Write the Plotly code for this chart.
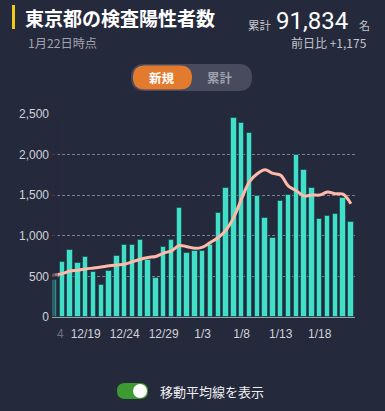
import plotly.graph_objects as go
import pandas as pd

# ---- data ----
dates = pd.date_range("2020-12-14", "2021-01-22", freq="D").strftime("%Y-%m-%d").tolist()
new_cases = [305, 460, 678, 822, 664, 736, 556, 392, 563, 748, 888, 884, 949, 708, 481,
             856, 944, 1337, 783, 814, 816, 884, 1278, 1591, 2447, 2392, 2268, 1494, 1219,
             970, 1433, 1502, 2001, 1809, 1592, 1204, 1240, 1274, 1471, 1175]
moving_avg = [503.9, 519.3, 534.4, 565.9, 575.7, 592.1, 603.0, 615.4, 630.1, 640.1, 649.6,
              681.0, 711.4, 733.1, 745.9, 787.7, 815.7, 879.9, 865.4, 846.1, 861.6, 919.1,
              979.4, 1071.9, 1230.4, 1460.3, 1668.0, 1764.9, 1812.7, 1768.7, 1746.1, 1611.1,
              1555.3, 1489.7, 1503.7, 1501.6, 1540.1, 1517.4, 1513.0, 1395.0]
tick_dates = ["2020-12-19", "2020-12-24", "2020-12-29", "2021-01-03", "2021-01-08",
              "2021-01-13", "2021-01-18"]
tick_text = ["12/19", "12/24", "12/29", "1/3", "1/8", "1/13", "1/18"]
y_ticks = [0, 500, 1000, 1500, 2000, 2500]

# ---- geometry ----
W, H = 385, 411
L, R, T, B = 52, 30, 114, 94
PW, PH = W - L - R, H - T - B
BG = "#25293c"


def px(x, y):
    return (x - L) / PW, (H - B - y) / PH


def rrect_path(x0, y0, x1, y1, r):
    pts = [("M", [(x0 + r, y0)]), ("L", [(x1 - r, y0)]), ("Q", [(x1, y0), (x1, y0 + r)]),
           ("L", [(x1, y1 - r)]), ("Q", [(x1, y1), (x1 - r, y1)]), ("L", [(x0 + r, y1)]),
           ("Q", [(x0, y1), (x0, y1 - r)]), ("L", [(x0, y0 + r)]), ("Q", [(x0, y0), (x0 + r, y0)])]
    s = ""
    for cmd, ps in pts:
        s += cmd + " " + " ".join("%.5f,%.5f" % px(a, b) for a, b in ps) + " "
    return s + "Z"


CJK = "Noto Sans CJK JP"
NUM = "Liberation Sans, Noto Sans CJK JP"

fig = go.Figure()
fig.add_trace(go.Bar(
    x=dates, y=new_cases, width=0.68 * 86400000,
    marker=dict(color="#41dfc7", line=dict(color="rgba(25,70,80,0.7)", width=1)),
    hoverinfo="skip"))
fig.add_trace(go.Scatter(
    x=dates, y=moving_avg, mode="lines", line=dict(color="#ffb9a9", width=3, shape="spline"),
    hoverinfo="skip"))

x0 = pd.Timestamp("2020-12-15") - pd.Timedelta(hours=7.7)
x1 = pd.Timestamp("2021-01-22") + pd.Timedelta(hours=12.7)

fig.update_layout(
    width=W, height=H, margin=dict(l=L, r=R, t=T, b=B, pad=0),
    paper_bgcolor=BG, plot_bgcolor=BG, showlegend=False, bargap=0,
    xaxis=dict(type="date", range=[x0, x1], tickvals=tick_dates, ticktext=tick_text,
               showgrid=False, showline=True, linecolor="#9a9da8", linewidth=1,
               ticks="", tickfont=dict(family=NUM, size=12, color="#d0d2d8"),
               ticklabelstandoff=6, fixedrange=True),
    yaxis=dict(range=[0, 2500], tickvals=y_ticks, tickformat=",", showgrid=True,
               gridcolor="#7b7f8f", griddash="3px,2px", gridwidth=1, zeroline=False,
               ticks="", tickfont=dict(family=NUM, size=12, color="#d0d2d8"),
               ticklabelstandoff=2, fixedrange=True),
)

shapes = []
# left fade over the scrolled chart edge
for xa, xb, a in [(52, 55, 0.7), (55, 58, 0.45)]:
    p0, q0 = px(xa, 317)
    p1, q1 = px(xb, T)
    shapes.append(dict(type="rect", xref="paper", yref="paper", x0=p0, x1=p1, y0=q0, y1=q1,
                       fillcolor="rgba(37,41,60,%.2f)" % a, line_width=0, layer="above"))
# yellow title marker
p0, q0 = px(12, 29)
p1, q1 = px(15, 5)
shapes.append(dict(type="rect", xref="paper", yref="paper", x0=p0, x1=p1, y0=q0, y1=q1,
                   fillcolor="#f2c81b", line_width=0))
# segmented toggle
shapes.append(dict(type="path", xref="paper", yref="paper", path=rrect_path(131, 64, 252, 91, 13.5),
                   fillcolor="#474b5d", line_width=0))
shapes.append(dict(type="path", xref="paper", yref="paper", path=rrect_path(133, 65.5, 192, 89.5, 12),
                   fillcolor="#e27b2e", line_width=0))
# switch
shapes.append(dict(type="path", xref="paper", yref="paper", path=rrect_path(117, 383, 148, 399, 8),
                   fillcolor="#3d9a33", line_width=0))
p0, q0 = px(133, 398)
p1, q1 = px(147, 384)
shapes.append(dict(type="circle", xref="paper", yref="paper", x0=p0, x1=p1, y0=q0, y1=q1,
                   fillcolor="#ffffff", line_width=0))
fig.update_layout(shapes=shapes)


def ann(text, x, y, size, color, family=CJK, xanchor="left", bold=False):
    xp, yp = px(x, y)
    fig.add_annotation(text=("<b>%s</b>" % text) if bold else text, x=xp, y=yp,
                       xref="paper", yref="paper", xanchor=xanchor, yanchor="middle",
                       showarrow=False, font=dict(family=family, size=size, color=color))


ann("東京都の検査陽性者数", 23, 18, 19, "#ffffff", bold=True)
ann("1月22日時点", 26, 42.5, 12.2, "#a0a2ad")
ann("累計", 246, 25, 11.5, "#c2c4cc")
ann("91,834", 274, 21, 24, "#ffffff", family="Roboto, Noto Sans CJK JP")
ann("名", 357, 25, 11, "#c2c4cc")
ann("前日比 +1,175", 369, 42.5, 12, "#c2c4cc", xanchor="right")
ann("新規", 162, 77.5, 12.5, "#ffffff", xanchor="center", bold=True)
ann("累計", 220, 77.5, 12.5, "#9ea1ad", xanchor="center", bold=True)
ann("移動平均線を表示", 158, 391.5, 13, "#f0f0f3")
ann("4", 55, 334.3, 12, "#6f7282", family=NUM)

fig.write_html("out.html", config={"displayModeBar": False})
